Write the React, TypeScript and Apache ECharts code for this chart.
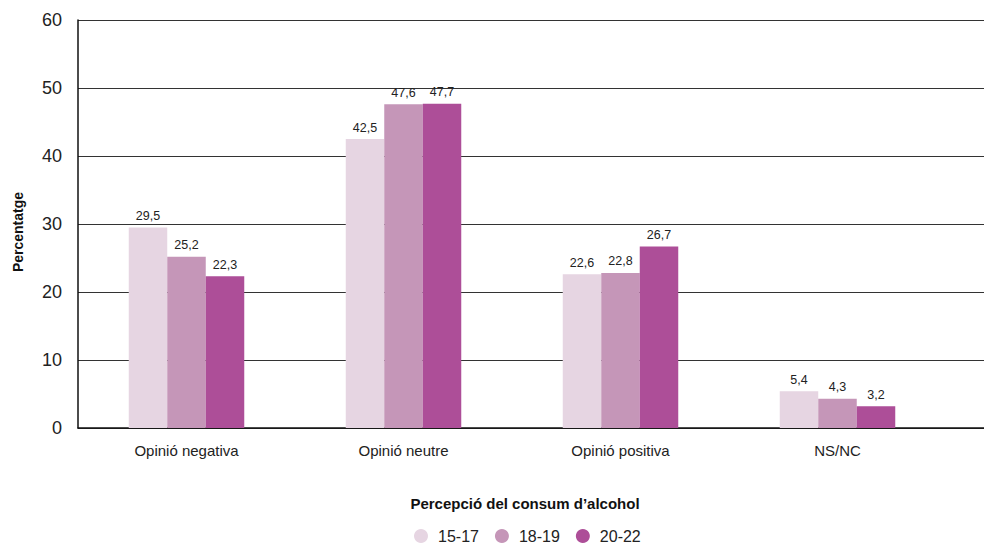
import React, { useEffect, useRef } from "react";
import * as echarts from "echarts";

const categories = ["Opinió negativa", "Opinió neutre", "Opinió positiva", "NS/NC"];
const seriesNames = ["15-17", "18-19", "20-22"];
const values1517 = [29.5, 42.5, 22.6, 5.4];
const values1819 = [25.2, 47.6, 22.8, 4.3];
const values2022 = [22.3, 47.7, 26.7, 3.2];
const colors = ["#E6D5E2", "#C596B8", "#AD4E98"];
const yTicks = { min: 0, max: 60, interval: 10 };

const FONT = "'Liberation Sans', Arial, Helvetica, sans-serif";

export default function App() {
  const ref = useRef<HTMLDivElement>(null);
  useEffect(() => {
    if (!ref.current) return;
    const chart = echarts.init(ref.current, undefined, { renderer: "svg" });
    const allValues = [values1517, values1819, values2022];
    chart.setOption({
      animation: false,
      textStyle: { fontFamily: FONT },
      grid: [
        { left: 78, right: 0, top: 20, height: 408 },
        { left: 78, width: 868, top: 20, height: 408 },
      ],
      xAxis: [
        {
          gridIndex: 0,
          type: "category",
          data: [""],
          axisLine: { show: true, lineStyle: { color: "#111", width: 1.5 } },
          axisTick: { show: false },
          axisLabel: { show: false },
        },
        {
          gridIndex: 1,
          type: "category",
          data: categories,
          axisLine: { show: false },
          axisTick: { show: false },
          axisLabel: { color: "#222", fontSize: 15, margin: 15, fontFamily: FONT },
        },
      ],
      yAxis: [
        {
          gridIndex: 0,
          type: "value",
          min: yTicks.min,
          max: yTicks.max,
          interval: yTicks.interval,
          axisLine: { show: true, lineStyle: { color: "#111", width: 1.5 } },
          axisTick: { show: false },
          axisLabel: { color: "#222", fontSize: 18, margin: 16, fontFamily: FONT },
          splitLine: { show: true, lineStyle: { color: "#333", width: 1 } },
        },
        {
          gridIndex: 1,
          type: "value",
          min: yTicks.min,
          max: yTicks.max,
          interval: yTicks.interval,
          show: false,
          splitLine: { show: false },
        },
      ],
      legend: {
        left: 414,
        top: 528,
        padding: 0,
        icon: "circle",
        itemWidth: 14,
        itemHeight: 14,
        itemGap: 16,
        textStyle: { color: "#222", fontSize: 16, fontFamily: FONT, padding: [0, 0, 0, 5] },
        data: seriesNames,
      },
      graphic: [
        {
          type: "text",
          x: 18,
          y: 232,
          rotation: Math.PI / 2,
          style: {
            text: "Percentatge",
            font: `bold 14px ${FONT}`,
            fill: "#111",
            textAlign: "center",
            textVerticalAlign: "middle",
          },
        },
        {
          type: "text",
          x: 525,
          y: 503,
          style: {
            text: "Percepció del consum d’alcohol",
            font: `bold 15px ${FONT}`,
            fill: "#111",
            textAlign: "center",
            textVerticalAlign: "middle",
          },
        },
      ],
      series: seriesNames.map((name, i) => ({
        name,
        type: "bar",
        xAxisIndex: 1,
        yAxisIndex: 1,
        data: allValues[i],
        barWidth: 38.5,
        barGap: "0%",
        itemStyle: { color: colors[i] },
        label: {
          show: true,
          position: "top",
          distance: 5,
          color: "#222",
          fontSize: 12.5,
          fontFamily: FONT,
          formatter: (p: any) => Number(p.value).toFixed(1).replace(".", ","),
        },
      })),
    });
    return () => chart.dispose();
  }, []);
  return <div ref={ref} style={{ width: 984, height: 543, position: "absolute", left: 0, top: 0 }} />;
}
